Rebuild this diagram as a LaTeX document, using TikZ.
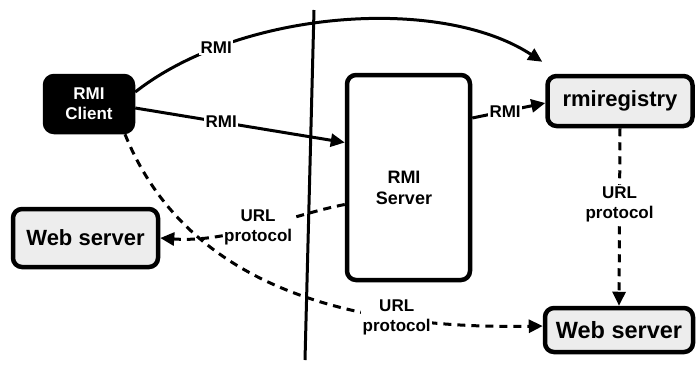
\documentclass[tikz,border=0pt]{standalone}
\usepackage{fontspec}
\setmainfont{Liberation Sans}
\usetikzlibrary{arrows.meta}
\begin{document}
\begin{tikzpicture}[x=1pt,y=-1pt,
  box/.style={draw,line width=4.5pt,rounded corners=9pt,inner sep=0pt,align=center,font=\bfseries},
  shaded/.style={box,fill=gray!14},
  lbl/.style={fill=white,inner sep=1.5pt,align=center,font=\fontsize{17}{20}\selectfont\bfseries},
  rmi/.style={line width=3pt,-{Triangle[length=14pt,width=13pt]}},
  url/.style={rmi,dash pattern=on 8pt off 6pt},
]
\useasboundingbox (0,0) rectangle (697,365);

% boundary between client side and server side
\coordinate (top) at (314,10);
\coordinate (bottom) at (305,360);
\draw[line width=3pt] (top) -- (bottom);

% hosts
\node[box,fill=black,text=white,minimum width=88pt,minimum height=56pt,
      font=\fontsize{17}{20}\selectfont\bfseries] (client) at (89,104) {RMI\\Client};
\node[box,fill=white,minimum width=123pt,minimum height=205pt] (server) at (408.5,177.5) {};
\node[font=\fontsize{18}{21}\selectfont\bfseries,align=center] (servertext) at (404,188) {RMI\\Server};
\node[shaded,minimum width=145pt,minimum height=50pt,font=\fontsize{22}{24}\selectfont\bfseries] (registry) at (620,101) {rmiregistry};
\node[shaded,minimum width=145pt,minimum height=58pt,font=\fontsize{22}{24}\selectfont\bfseries] (webL) at (85.5,238) {Web server};
\node[shaded,minimum width=148pt,minimum height=44pt,font=\fontsize{23.5}{25}\selectfont\bfseries] (webR) at (619,330) {Web server};

% RMI calls
\draw[rmi] ([yshift=12pt]client.east) .. controls (240,10) and (440,-5) .. ([shift={(-3,-12)}]registry.north west)
  node[lbl,pos=0.22] {RMI};
\draw[rmi] ([yshift=-4pt]client.east) -- ([yshift=35pt]server.west)
  node[lbl,pos=0.41] {RMI};
\draw[rmi] ([yshift=59.5pt]server.east) -- ([yshift=-2pt]registry.west)
  node[lbl,pos=0.45] {RMI};

% URL protocol downloads
\draw[url] (registry.south) -- (webR.north)
  node[lbl,pos=0.43] {URL\\protocol};
\draw[url] ([yshift=-27pt]server.west) .. controls (290,215) and (230,243) .. (webL.east)
  node[lbl,pos=0.5] {URL\\protocol};
\draw[url] ([xshift=36pt]client.south) .. controls (180,270) and (320,330) .. ([yshift=4pt]webR.west)
  node[lbl,pos=0.76] {URL\\protocol};
\end{tikzpicture}
\end{document}
